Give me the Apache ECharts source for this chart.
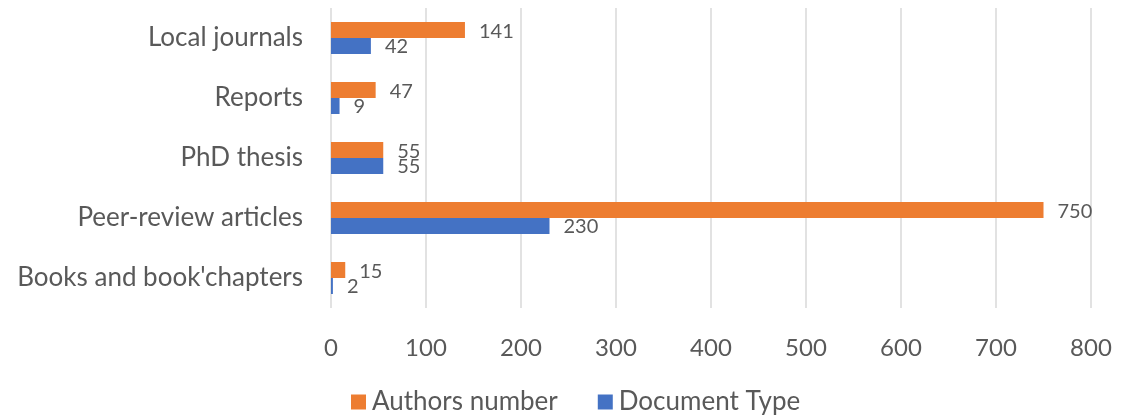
<!DOCTYPE html>
<html><head><meta charset="utf-8">
<script src="https://cdn.jsdelivr.net/npm/echarts@6/dist/echarts.min.js"></script>
<style>html,body{margin:0;padding:0;background:#fff}#c{width:1131px;height:417px}</style>
</head><body><div id="c"></div>
<script>
const categories = ["Books and book'chapters", "Peer-review articles", "PhD thesis", "Reports", "Local journals"];
const authorsNumber = [15, 750, 55, 47, 141];
const documentType = [2, 230, 55, 9, 42];
const xTicks = [0, 100, 200, 300, 400, 500, 600, 700, 800];

const FONT = 'Lato';
const TXT = '#595959';
const chart = echarts.init(document.getElementById('c'), null, {renderer: 'canvas'});
chart.setOption({
  animation: false,
  textStyle: {fontFamily: FONT},
  grid: {left: 331, right: 40, top: 8, bottom: 109, containLabel: false},
  legend: {
    data: ['Authors number', 'Document Type'],
    top: 384, left: 346,
    itemWidth: 15, itemHeight: 15, itemGap: 40,
    icon: 'rect',
    textStyle: {fontFamily: FONT, fontSize: 26, color: TXT, padding: [0, 0, 0, 1]}
  },
  xAxis: {
    type: 'value', min: xTicks[0], max: xTicks[xTicks.length - 1], interval: 100,
    axisLine: {show: false}, axisTick: {show: false},
    splitLine: {lineStyle: {color: '#D9D9D9', width: 1.5}},
    axisLabel: {fontFamily: FONT, fontSize: 24, color: TXT, margin: 28}
  },
  yAxis: {
    type: 'category', data: categories,
    axisLine: {show: false}, axisTick: {show: false},
    axisLabel: {fontFamily: FONT, fontSize: 26, color: TXT, margin: 28}
  },
  series: [
    {
      name: 'Authors number', type: 'bar', data: authorsNumber,
      barWidth: 16, barGap: '0%',
      itemStyle: {color: '#ED7D31'},
      label: {show: true, position: 'right', distance: 14, fontFamily: FONT, fontSize: 20, color: TXT, offset: [0, 2]}
    },
    {
      name: 'Document Type', type: 'bar', data: documentType,
      barWidth: 16, barGap: '0%',
      itemStyle: {color: '#4472C4'},
      label: {show: true, position: 'right', distance: 14, fontFamily: FONT, fontSize: 20, color: TXT, offset: [0, 1]}
    }
  ]
});
</script></body></html>
